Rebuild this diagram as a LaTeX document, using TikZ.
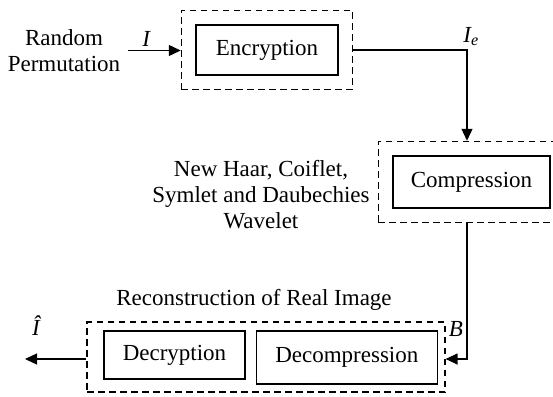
\documentclass[tikz,border=0pt]{standalone}
\usepackage{fontspec}
\setmainfont{Liberation Serif}
\usetikzlibrary{positioning, fit, arrows.meta}

\begin{document}
\begin{tikzpicture}[
        x=1pt, y=-1pt,
        font=\fontsize{23}{26}\selectfont,
        stage/.style={rectangle, draw, line width=1.3pt, inner sep=0pt, align=center},
        group/.style={rectangle, draw, line width=1.2pt, dash pattern=on 6.5pt off 4.5pt, inner sep=0pt},
        note/.style={align=center, inner sep=0pt},
        arrow/.style={-{Triangle[length=12pt, width=11pt]}, line width=1.3pt}
    ]
    \useasboundingbox (0,0) rectangle (553,396);

    \node (perm) [note] at (64,50.5) {Random\\Permutation};

    \node (enc) [stage, minimum width=142pt, minimum height=50pt] at (267,50) {Encryption};
    \node (encgrp) [group, fit=(enc), inner sep=14pt] {};

    \node (comp) [stage, minimum width=157pt, minimum height=52pt] at (471.5,182) {Compression};
    \node (compgrp) [group, fit=(comp), inner sep=14pt] {};
    \node (wavelet) [note, anchor=east] at ([xshift=-8pt, yshift=-13pt]compgrp.west) {New Haar, Coiflet,\\Symlet and Daubechies\\Wavelet};

    \node (dec) [stage, minimum width=141pt, minimum height=48pt] at (174.5,355) {Decryption};
    \node (decomp) [stage, minimum width=181pt, minimum height=53pt, anchor=north west] at ([xshift=10pt]dec.north east) {Decompression};
    \node (recgrp) [group, minimum width=358pt, minimum height=70pt] at (266,357) {};
    \node (recon) [note, above=11pt of recgrp, xshift=-12pt] {Reconstruction of Real Image};

    \coordinate (out) at (25,359);

    \draw [arrow] ([xshift=8pt]perm.east) -- node[above, pos=0.35] {\textit{I}} (perm.east -| encgrp.west);
    \draw [arrow] (encgrp.east) -| node[above, pos=0.5, xshift=4pt] {\textit{I\textsubscript{e}}} ([xshift=-4.5pt]compgrp.north);
    \draw [arrow] ([xshift=-4.5pt]compgrp.south) |- node[left, pos=0.39] {\textit{B}} ([yshift=-2pt]recgrp.east);
    \draw [arrow] ([yshift=-2pt]recgrp.west) -- node[above=20pt, pos=0.81] {\textit{Î}} (out);

\end{tikzpicture}
\end{document}
